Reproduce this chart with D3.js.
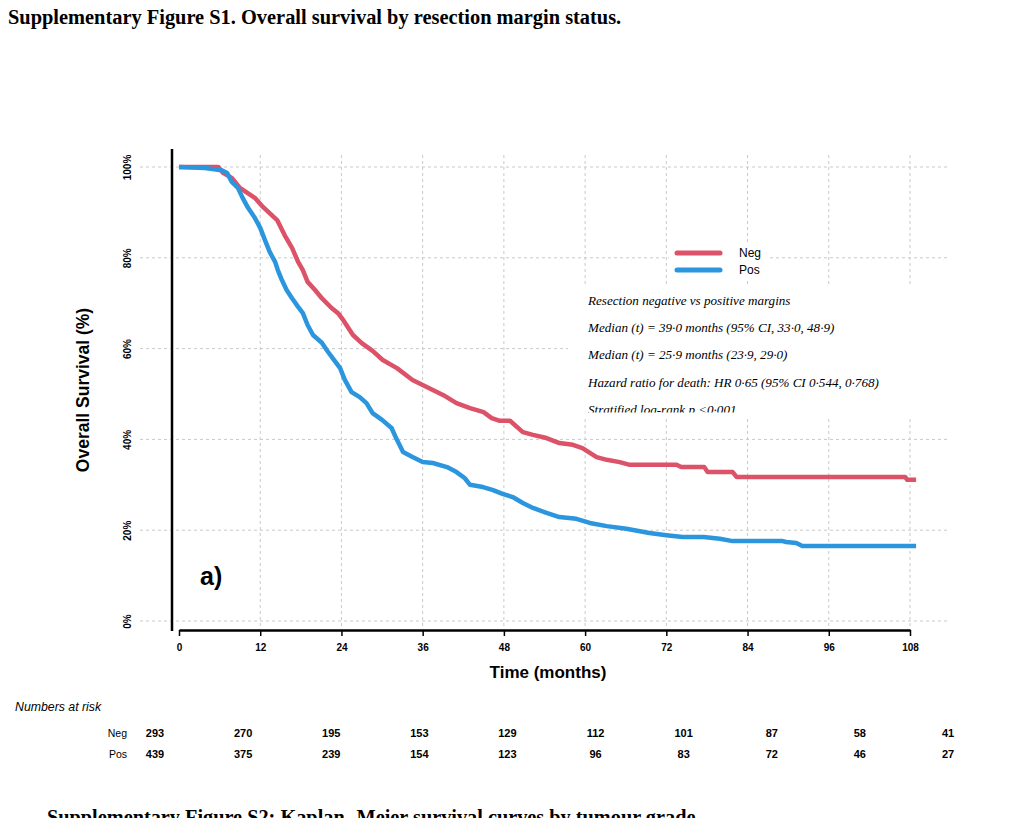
<!DOCTYPE html>
<html>
<head>
<meta charset="utf-8">
<script src="https://cdn.jsdelivr.net/npm/d3@7"></script>
<style>
  body { margin: 0; background: #fff; }
  svg { display: block; }
</style>
</head>
<body>
<svg id="chart" width="1026" height="818"></svg>
<script>
// survival curves (months, % surviving)
const negTime = [0, 5.8, 6.5, 7.8, 9.0, 11.2, 12.4, 13.7, 14.5, 15.6, 16.7, 17.6, 18.3, 19.0, 20.1, 21.1, 22.5, 23.5, 24.3, 25.7, 27.0, 28.6, 30.1, 32.2, 34.5, 36.0, 37.5, 39.0, 41.0, 43.0, 45.0, 46.2, 47.4, 48.9, 50.8, 52.3, 54.3, 56.2, 58.2, 59.6, 61.7, 63.2, 65.1, 66.6, 73.5, 74.2, 77.6, 78.1, 81.8, 82.4, 107.3, 107.6, 108.9];
const negSurv = [100, 100, 98.7, 97.6, 95.4, 93.2, 91.2, 89.4, 88.3, 85.0, 82.2, 79.1, 77.3, 74.7, 72.9, 71.1, 69.0, 67.8, 66.2, 63.0, 61.2, 59.5, 57.5, 55.7, 53.1, 52.0, 50.9, 49.8, 48.0, 46.9, 46.0, 44.7, 44.1, 44.1, 41.6, 41.0, 40.3, 39.2, 38.8, 38.1, 36.1, 35.5, 35.0, 34.4, 34.4, 33.9, 33.9, 32.8, 32.8, 31.7, 31.7, 31.1, 31.1];

const posTime = [0, 3.8, 6.3, 7.1, 7.8, 8.7, 9.4, 10.2, 11.2, 12.0, 12.7, 13.4, 14.2, 14.6, 15.2, 15.9, 16.7, 17.6, 18.3, 19.0, 19.8, 21.1, 22.0, 22.7, 23.8, 24.5, 25.5, 26.7, 27.7, 28.6, 30.0, 31.4, 32.2, 33.1, 34.5, 36.0, 37.5, 39.6, 41.0, 42.2, 43.0, 44.9, 46.3, 47.8, 49.3, 50.8, 52.3, 54.3, 56.2, 58.7, 60.7, 63.2, 66.1, 69.5, 72.0, 74.4, 77.5, 79.9, 81.8, 89.2, 89.7, 91.2, 92.1, 108.9];
const posSurv = [100, 99.8, 99.3, 98.7, 96.7, 95.4, 93.2, 91.0, 88.8, 86.6, 83.9, 81.3, 79.1, 77.3, 75.1, 72.9, 71.1, 69.2, 67.8, 65.2, 63.0, 61.3, 59.3, 57.9, 55.7, 53.1, 50.4, 49.3, 48.0, 45.8, 44.3, 42.5, 39.9, 37.2, 36.1, 35.0, 34.8, 33.9, 32.8, 31.5, 30.0, 29.5, 28.9, 28.0, 27.3, 26.0, 24.9, 23.8, 22.9, 22.5, 21.6, 20.9, 20.3, 19.4, 18.9, 18.5, 18.5, 18.1, 17.6, 17.6, 17.4, 17.2, 16.5, 16.5];

const groups = ["Neg", "Pos"];
const groupColors = ["#dc5268", "#2b96de"];

const xTicks = [0, 12, 24, 36, 48, 60, 72, 84, 96, 108];
const yTicks = [0, 20, 40, 60, 80, 100];

const riskTimes = [0, 12, 24, 36, 48, 60, 72, 84, 96, 108];
const negRisk = [293, 270, 195, 153, 129, 112, 101, 87, 58, 41];
const posRisk = [439, 375, 239, 154, 123, 96, 83, 72, 46, 27];

const notes = [
  "Resection negative vs positive margins",
  "Median (t) = 39·0 months (95% CI, 33·0, 48·9)",
  "Median (t) = 25·9 months (23·9, 29·0)",
  "Hazard ratio for death: HR 0·65 (95% CI 0·544, 0·768)",
  "Stratified log-rank p <0·001"
];

const svg = d3.select("#chart");
const sans = "'Liberation Sans', Arial, sans-serif";
const serif = "'Liberation Serif', 'Times New Roman', serif";

const x = d3.scaleLinear().domain([0, 108]).range([179, 910]);
const y = d3.scaleLinear().domain([0, 100]).range([621, 167]);
const xRisk = d3.scaleLinear().domain([0, 108]).range([155, 948]);

// titles
svg.append("text")
    .attr("x", 8).attr("y", 24)
    .attr("font-family", serif).attr("font-weight", "bold").attr("font-size", 20.4)
    .text("Supplementary Figure S1. Overall survival by resection margin status.");

svg.append("text")
    .attr("x", 47).attr("y", 824)
    .attr("font-family", serif).attr("font-weight", "bold").attr("font-size", 20.3)
    .text("Supplementary Figure S2: Kaplan- Meier survival curves by tumour grade");

// grid
const grid = svg.append("g")
    .attr("stroke", "#c9c9c9").attr("stroke-width", 1).attr("stroke-dasharray", "3,3");
grid.selectAll("line.h").data(yTicks).join("line")
    .attr("x1", 140).attr("x2", 948)
    .attr("y1", d => y(d)).attr("y2", d => y(d));
grid.selectAll("line.v").data(xTicks.slice(1)).join("line")
    .attr("x1", d => x(d)).attr("x2", d => x(d))
    .attr("y1", 155).attr("y2", 630);

// y axis
const yAxis = d3.axisLeft(y).tickValues(yTicks).tickSize(0).tickFormat(d => d + "%");
svg.append("g")
    .attr("transform", "translate(172,0)")
    .call(yAxis)
    .call(g => g.select(".domain").remove())
    .call(g => g.selectAll(".tick text")
        .attr("x", 0).attr("dy", 0)
        .attr("text-anchor", "middle")
        .attr("transform", "translate(-41,0) rotate(-90)")
        .attr("font-family", sans).attr("font-weight", "bold").attr("font-size", 10)
        .attr("fill", "#000"));
svg.append("line")
    .attr("x1", 172).attr("x2", 172).attr("y1", 149).attr("y2", 631)
    .attr("stroke", "#000").attr("stroke-width", 2.5);

// x axis
const xAxis = d3.axisBottom(x).tickValues(xTicks).tickSize(6).tickSizeOuter(0).tickPadding(8);
svg.append("g")
    .attr("transform", "translate(0,630)")
    .call(xAxis)
    .call(g => g.select(".domain").attr("stroke-width", 2.5))
    .call(g => g.selectAll(".tick line").attr("stroke-width", 1.5))
    .call(g => g.selectAll(".tick text")
        .attr("font-family", sans).attr("font-weight", "bold").attr("font-size", 10)
        .attr("fill", "#000"));

svg.append("text")
    .attr("x", 548).attr("y", 678)
    .attr("text-anchor", "middle")
    .attr("font-family", sans).attr("font-weight", "bold").attr("font-size", 17)
    .text("Time (months)");

svg.append("text")
    .attr("transform", "translate(89,390) rotate(-90)")
    .attr("text-anchor", "middle")
    .attr("font-family", sans).attr("font-weight", "bold").attr("font-size", 17.5)
    .text("Overall Survival (%)");

// curves
const line = d3.line()
    .x(d => x(d[0]))
    .y(d => y(d[1]))
    .curve(d3.curveLinear);

const series = [
  d3.zip(negTime, negSurv),
  d3.zip(posTime, posSurv)
];

svg.append("g")
    .selectAll("path")
    .data(series)
    .join("path")
    .attr("d", line)
    .attr("fill", "none")
    .attr("stroke", (d, i) => groupColors[i])
    .attr("stroke-width", 4.5)
    .attr("stroke-linejoin", "round");

// panel letter
svg.append("text")
    .attr("x", 200).attr("y", 585)
    .attr("font-family", sans).attr("font-weight", "bold").attr("font-size", 25)
    .text("a)");

// legend
svg.append("rect")
    .attr("x", 669).attr("y", 244).attr("width", 99).attr("height", 35)
    .attr("fill", "#fff");
const legend = svg.append("g");
groups.forEach((g, i) => {
  const ly = 253 + i * 17;
  legend.append("line")
      .attr("x1", 677).attr("x2", 720).attr("y1", ly).attr("y2", ly)
      .attr("stroke", groupColors[i]).attr("stroke-width", 5)
      .attr("stroke-linecap", "round");
  legend.append("text")
      .attr("x", 739).attr("y", ly + 4)
      .attr("font-family", sans).attr("font-size", 12)
      .text(g);
});

// annotation box (text clipped at bottom, as in the source)
svg.append("defs").append("clipPath").attr("id", "noteClip")
    .append("rect").attr("x", 568).attr("y", 286).attr("width", 400).attr("height", 126.5);
svg.append("rect")
    .attr("x", 568).attr("y", 286).attr("width", 400).attr("height", 132)
    .attr("fill", "#fff");
svg.append("g")
    .attr("clip-path", "url(#noteClip)")
    .selectAll("text")
    .data(notes)
    .join("text")
    .attr("x", 588)
    .attr("y", (d, i) => 305 + i * 27.2)
    .attr("font-family", serif).attr("font-style", "italic").attr("font-size", 13.1)
    .text(d => d);

// numbers at risk
svg.append("text")
    .attr("x", 15).attr("y", 711)
    .attr("font-family", sans).attr("font-style", "italic").attr("font-size", 12.3)
    .text("Numbers at risk");

const riskRows = [negRisk, posRisk];
riskRows.forEach((row, r) => {
  const ry = 737 + r * 21;
  svg.append("text")
      .attr("x", 127).attr("y", ry)
      .attr("text-anchor", "end")
      .attr("font-family", sans).attr("font-size", 10.5)
      .text(groups[r]);
  svg.append("g")
      .selectAll("text")
      .data(row)
      .join("text")
      .attr("x", (d, i) => xRisk(riskTimes[i]))
      .attr("y", ry)
      .attr("text-anchor", "middle")
      .attr("font-family", "'Liberation Sans Narrow', 'Arial Narrow', sans-serif")
      .attr("font-stretch", "condensed")
      .attr("font-weight", "bold").attr("font-size", 11)
      .text(d => d);
});
</script>
</body>
</html>
